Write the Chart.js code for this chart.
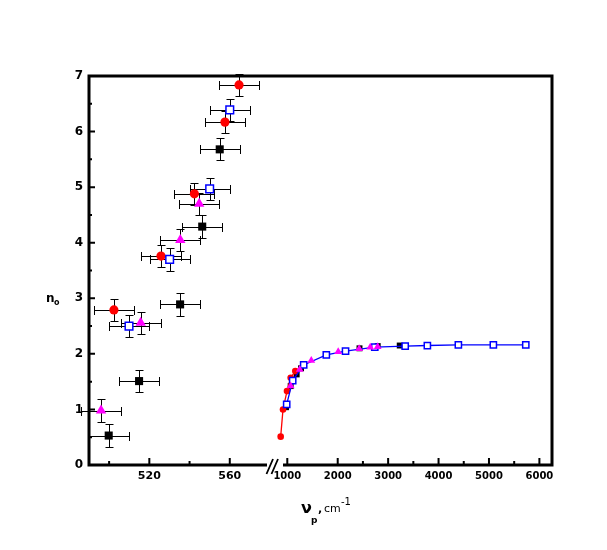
<!DOCTYPE html>
<html>
<head>
<meta charset="utf-8">
<script src="https://cdn.jsdelivr.net/npm/chart.js@4.4.1/dist/chart.umd.min.js"></script>
<style>
  html, body { margin: 0; padding: 0; background: #fff; }
</style>
</head>
<body>
<canvas id="chart" width="607" height="550"></canvas>
<script>
// ---- ticks ----
const yMajorTicks = [0, 1, 2, 3, 4, 5, 6, 7];
const yMinorTicks = [0.5, 1.5, 2.5, 3.5, 4.5, 5.5, 6.5];
const leftMajorTicks = [520, 560];
const leftMinorTicks = [500, 540];
const rightMajorTicks = [1000, 2000, 3000, 4000, 5000, 6000];
const rightMinorTicks = [2500, 3500, 4500, 5500];

// ---- left segment (cm-1 ~ 500-580), with error bars ----
const redLeftX = [564.6, 557.6, 542.4, 525.8, 502.4];
const redLeftY = [6.84, 6.17, 4.88, 3.76, 2.79];
const blackLeftX = [555.0, 546.3, 535.3, 514.9, 499.8];
const blackLeftY = [5.68, 4.29, 2.89, 1.51, 0.53];
const blueLeftX = [560.0, 550.0, 530.1, 509.9];
const blueLeftY = [6.39, 4.97, 3.70, 2.50];
const magentaLeftX = [544.8, 535.4, 515.7, 496.0];
const magentaLeftY = [4.70, 4.05, 2.56, 0.98];
const xError = 10;
const yError = 0.2;

// ---- right segment (cm-1 ~ 900-6000) ----
const redRightX = [869, 915, 994, 1067, 1159];
const redRightY = [0.51, 1.00, 1.33, 1.57, 1.69];
const blackRightX = [975, 1067, 1186, 1272, 2432, 2793, 3230];
const blackRightY = [1.04, 1.42, 1.63, 1.74, 2.10, 2.14, 2.15];
const blueRightX = [988, 1107, 1325, 1774, 2155, 2735, 3338, 3778, 4393, 5087, 5730];
const blueRightY = [1.09, 1.52, 1.80, 1.98, 2.05, 2.12, 2.14, 2.15, 2.16, 2.16, 2.16];
const magentaRightX = [1067, 1246, 1476, 2010, 2425, 2645, 2793];
const magentaRightY = [1.42, 1.72, 1.88, 2.04, 2.09, 2.12, 2.13];

const pts = (xs, ys) => xs.map((x, i) => ({ x: x, y: ys[i] }));

const RED = '#ff0000', BLUE = '#0000ff', MAGENTA = '#ff00ff', BLACK = '#000000';

function leftSet(xs, ys, style, color, radius, fill, order) {
  return {
    data: pts(xs, ys), xAxisID: 'xL', showLine: false,
    pointStyle: style, pointRadius: radius,
    pointBackgroundColor: fill, pointBorderColor: color, pointBorderWidth: fill === '#fff' ? 1.5 : 0,
    errX: xs.map(() => xError), errY: ys.map(() => yError), order: order
  };
}
function rightSet(xs, ys, style, color, radius, fill, line, order) {
  return {
    data: pts(xs, ys), xAxisID: 'xR', showLine: line,
    borderColor: color, borderWidth: 1.3, tension: 0,
    pointStyle: style, pointRadius: radius,
    pointBackgroundColor: fill, pointBorderColor: color, pointBorderWidth: fill === '#fff' ? 1.5 : 0,
    order: order
  };
}

// error bars drawn under the markers
const errorBars = {
  id: 'errorBars',
  beforeDatasetsDraw(chart) {
    const ctx = chart.ctx, ys = chart.scales.y;
    ctx.save();
    ctx.strokeStyle = '#000';
    ctx.lineWidth = 1;
    chart.data.datasets.forEach(ds => {
      if (!ds.errX) return;
      const xs = chart.scales[ds.xAxisID];
      ds.data.forEach((p, i) => {
        const px = Math.round(xs.getPixelForValue(p.x)) + 0.5;
        const py = Math.round(ys.getPixelForValue(p.y)) + 0.5;
        const x0 = Math.round(xs.getPixelForValue(p.x - ds.errX[i])) + 0.5;
        const x1 = Math.round(xs.getPixelForValue(p.x + ds.errX[i])) + 0.5;
        const y0 = Math.round(ys.getPixelForValue(p.y - ds.errY[i])) + 0.5;
        const y1 = Math.round(ys.getPixelForValue(p.y + ds.errY[i])) + 0.5;
        ctx.beginPath();
        ctx.moveTo(x0, py); ctx.lineTo(x1, py);
        ctx.moveTo(px, y0); ctx.lineTo(px, y1);
        ctx.moveTo(x0, py - 4.5); ctx.lineTo(x0, py + 4.5);
        ctx.moveTo(x1, py - 4.5); ctx.lineTo(x1, py + 4.5);
        ctx.moveTo(px - 4, y0); ctx.lineTo(px + 4, y0);
        ctx.moveTo(px - 4, y1); ctx.lineTo(px + 4, y1);
        ctx.stroke();
      });
    });
    ctx.restore();
  }
};

// heavy frame, broken bottom axis, inward ticks, axis titles
const frame = {
  id: 'frame',
  afterDatasetsDraw(chart) {
    const { ctx, chartArea: a, scales } = chart;
    const brk = scales.xR.left;
    ctx.save();
    ctx.strokeStyle = '#000';
    ctx.lineWidth = 3;
    ctx.beginPath();
    ctx.moveTo(a.left, a.bottom + 1.5); ctx.lineTo(a.left, a.top);
    ctx.lineTo(a.right, a.top); ctx.lineTo(a.right, a.bottom + 1.5);
    ctx.moveTo(a.left, a.bottom); ctx.lineTo(brk - 3, a.bottom);
    ctx.moveTo(brk + 13, a.bottom); ctx.lineTo(a.right, a.bottom);
    ctx.stroke();

    ctx.lineWidth = 1.8;
    ctx.beginPath();
    ctx.moveTo(brk - 3.5, a.bottom + 9); ctx.lineTo(brk + 3, a.bottom - 6);
    ctx.moveTo(brk + 1.5, a.bottom + 9); ctx.lineTo(brk + 8, a.bottom - 6);
    ctx.stroke();

    ctx.lineWidth = 2;
    ctx.beginPath();
    yMajorTicks.forEach(v => { const p = scales.y.getPixelForValue(v); ctx.moveTo(a.left, p); ctx.lineTo(a.left + 6, p); });
    yMinorTicks.forEach(v => { const p = scales.y.getPixelForValue(v); ctx.moveTo(a.left, p); ctx.lineTo(a.left + 3, p); });
    leftMajorTicks.forEach(v => { const p = scales.xL.getPixelForValue(v); ctx.moveTo(p, a.bottom); ctx.lineTo(p, a.bottom - 7); });
    leftMinorTicks.forEach(v => { const p = scales.xL.getPixelForValue(v); ctx.moveTo(p, a.bottom); ctx.lineTo(p, a.bottom - 4); });
    rightMajorTicks.forEach(v => { const p = scales.xR.getPixelForValue(v); ctx.moveTo(p, a.bottom); ctx.lineTo(p, a.bottom - 7); });
    rightMinorTicks.forEach(v => { const p = scales.xR.getPixelForValue(v); ctx.moveTo(p, a.bottom); ctx.lineTo(p, a.bottom - 4); });
    ctx.stroke();

    // axis titles
    ctx.fillStyle = '#000';
    ctx.textBaseline = 'alphabetic';
    ctx.font = 'bold 12px "DejaVu Sans"';
    ctx.fillText('n', 46, 302);
    ctx.font = 'bold 8px "DejaVu Sans"';
    ctx.fillText('o', 54, 305);

    ctx.font = 'bold 16px "DejaVu Sans"';
    ctx.fillText('\u03bd', 301, 513);
    ctx.font = 'bold 9px "DejaVu Sans"';
    ctx.fillText('p', 311, 523);
    ctx.font = 'bold 11px "DejaVu Sans"';
    ctx.fillText(',', 318, 512);
    ctx.font = '11px "DejaVu Sans"';
    ctx.fillText('cm', 324, 512);
    ctx.font = '10px "DejaVu Sans"';
    ctx.fillText('-1', 341, 505);
    ctx.restore();
  }
};

const hidden = { display: false, drawTicks: false };
const plainLabel = v => String(v);

new Chart(document.getElementById('chart'), {
  type: 'scatter',
  data: {
    datasets: [
      leftSet(blackLeftX, blackLeftY, 'rect', BLACK, 5.7, BLACK, 4),
      leftSet(redLeftX, redLeftY, 'circle', RED, 4.6, RED, 3),
      leftSet(blueLeftX, blueLeftY, 'rect', BLUE, 5.4, '#fff', 2),
      leftSet(magentaLeftX, magentaLeftY, 'triangle', MAGENTA, 6, MAGENTA, 1),
      rightSet(blackRightX, blackRightY, 'rect', BLACK, 4.2, BLACK, false, 4),
      rightSet(redRightX, redRightY, 'circle', RED, 3.3, RED, true, 3),
      rightSet(blueRightX, blueRightY, 'rect', BLUE, 4.4, '#fff', true, 2),
      rightSet(magentaRightX, magentaRightY, 'triangle', MAGENTA, 4.5, MAGENTA, false, 1)
    ]
  },
  options: {
    responsive: false,
    animation: false,
    layout: { padding: { left: 0, top: 76, right: 55, bottom: 0 } },
    plugins: { legend: { display: false }, tooltip: { enabled: false } },
    scales: {
      y: {
        type: 'linear', position: 'left', min: 0, max: 7,
        grid: hidden, border: { display: false },
        afterBuildTicks: s => { s.ticks = yMajorTicks.map(v => ({ value: v })); },
        afterFit: s => { s.width = 89; },
        ticks: { color: '#000', padding: 6, autoSkip: false, callback: plainLabel,
                 font: { family: 'DejaVu Sans', size: 12, weight: 'bold' } }
      },
      xL: {
        type: 'linear', position: 'bottom', min: 490, max: 580,
        stack: 'x', stackWeight: 181,
        grid: hidden, border: { display: false },
        afterBuildTicks: s => { s.ticks = leftMajorTicks.map(v => ({ value: v })); },
        afterFit: s => { s.height = 85; },
        ticks: { color: '#000', padding: 5, maxRotation: 0, autoSkip: false, callback: plainLabel,
                 font: { family: 'DejaVu Sans', size: 11, weight: 'bold' } }
      },
      xR: {
        type: 'linear', position: 'bottom', min: 657, max: 6250,
        stack: 'x', stackWeight: 282,
        grid: hidden, border: { display: false },
        afterBuildTicks: s => { s.ticks = rightMajorTicks.map(v => ({ value: v })); },
        afterFit: s => { s.height = 85; },
        ticks: { color: '#000', padding: 5, maxRotation: 0, autoSkip: false, callback: plainLabel,
                 font: { family: 'DejaVu Sans', size: 10, weight: 'bold' } }
      }
    }
  },
  plugins: [errorBars, frame]
});
</script>
</body>
</html>
